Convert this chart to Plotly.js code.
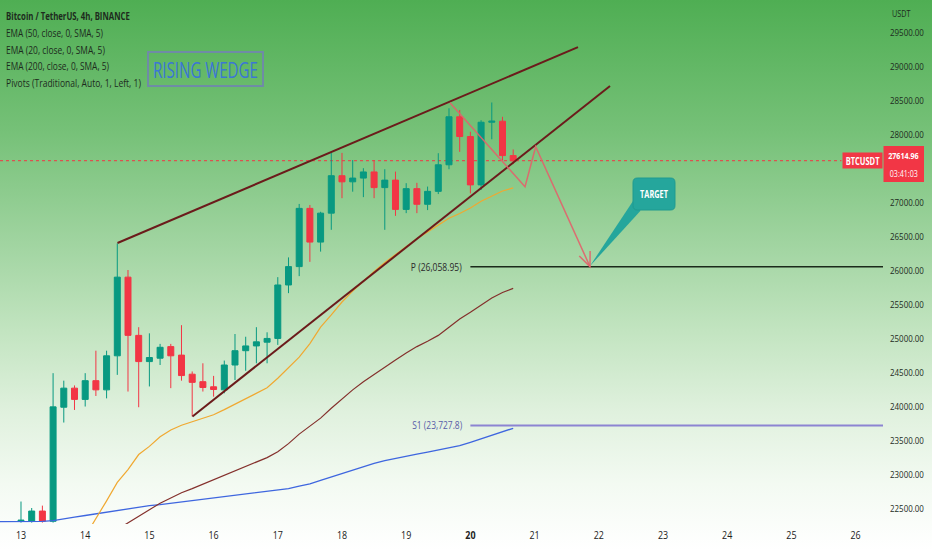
<!DOCTYPE html>
<html>
<head>
<meta charset="utf-8">
<script src="https://cdn.plot.ly/plotly-3.0.1.min.js"></script>
<style>
  html, body { margin: 0; padding: 0; }
  body { width: 932px; height: 550px; overflow: hidden;
    background: linear-gradient(to bottom, #4fae53 0%, #76c178 24%, #a0d4a0 44%, #c2e4c0 60%, #e0f1de 75%, #f3faf2 88%, #ffffff 100%); }
  #chart { width: 932px; height: 550px; }
</style>
</head>
<body>
<div id="chart"></div>
<script>
// ---------- DATA ----------
const dayTicks = [13, 14, 15, 16, 17, 18, 19, 20, 21, 22, 23, 24, 25, 26];
const dayLabels = ['13', '14', '15', '16', '17', '18', '19', '<b>20</b>', '21', '22', '23', '24', '25', '26'];
// price scale labels (27500 is hidden behind the last-price tag)
const priceTicks = [22500, 23000, 23500, 24000, 24500, 25000, 25500, 26000, 26500, 27000, 28000, 28500, 29000, 29500];
const firstCandleDay = 13;          // 2023-03-13 00:00, 4h candles
const candlesPerDay = 6;

const openP = [22320, 22320, 22470, 22320, 23995, 24275, 24110, 24385, 24250, 24750,
  25905, 25050, 24665, 24715, 24885, 24760, 24480, 24370, 24295, 24250,
  24615, 24825, 24895, 24950, 25005, 25790, 26060, 26915, 26420, 26845,
  27395, 27305, 27360, 27450, 27220, 27330, 26900, 27205, 26975, 27165,
  27555, 28260, 27970, 27260, 28180, 28195, 27690];
const highP = [22610, 22515, 22550, 24495, 24385, 24315, 24495, 24825, 24825, 26400,
  26010, 25170, 25080, 24925, 24925, 25200, 24520, 24640, 24455, 24680,
  25070, 25030, 25170, 25095, 25905, 26195, 26980, 26965, 26865, 27730,
  27730, 27625, 27505, 27625, 27490, 27455, 27285, 27290, 27235, 27725,
  28385, 28360, 28040, 28210, 28470, 28260, 27780];
const lowP = [22300, 22300, 22300, 22300, 23770, 23955, 24005, 24160, 24125, 24470,
  24225, 23995, 24300, 24615, 24275, 24385, 23860, 24225, 24150, 24200,
  24395, 24530, 24640, 24640, 24910, 25670, 25920, 26130, 26280, 26600,
  27065, 27160, 27080, 27065, 26600, 26805, 26845, 26845, 26890, 27125,
  27490, 27745, 27135, 27185, 27930, 27615, 27565];
const closeP = [22335, 22470, 22320, 24000, 24275, 24110, 24385, 24250, 24750, 25905,
  25050, 24665, 24725, 24875, 24750, 24460, 24360, 24285, 24255, 24615,
  24825, 24895, 24955, 25005, 25790, 26060, 26915, 26420, 26845, 27395,
  27305, 27360, 27450, 27220, 27330, 26900, 27205, 26975, 27165, 27555,
  28260, 27970, 27260, 28180, 28195, 27690, 27615];

// EMA 20 (orange) from candle 6
const ema20Start = 6;
const ema20 = [22100, 22350, 22620, 22890, 23080, 23300, 23420, 23560, 23660, 23730,
  23780, 23830, 23885, 23960, 24040, 24120, 24200, 24280, 24420, 24570,
  24730, 24930, 25170, 25350, 25540, 25700, 25850, 25990, 26120, 26240,
  26350, 26470, 26570, 26670, 26770, 26840, 26920, 27020, 27100, 27170, 27215];
// EMA 50 (maroon) from candle 9
const ema50Start = 9;
const ema50 = [22200, 22300, 22400, 22490, 22585, 22665, 22740, 22800, 22865, 22930,
  23000, 23070, 23135, 23195, 23255, 23340, 23460, 23600, 23720, 23835,
  23980, 24120, 24250, 24370, 24480, 24590, 24690, 24790, 24885, 24965,
  25050, 25170, 25290, 25390, 25490, 25600, 25680, 25740];
// EMA 200 (blue) from candle -2
const ema200Start = -2;
const ema200 = [22315, 22315, 22315, 22315, 22318, 22330, 22350, 22380, 22405, 22430,
  22455, 22480, 22505, 22530, 22550, 22565, 22585, 22605, 22620, 22640,
  22660, 22680, 22700, 22720, 22740, 22755, 22775, 22800, 22835, 22870,
  22920, 22970, 23025, 23075, 23125, 23170, 23210, 23245, 23275, 23305,
  23335, 23365, 23395, 23430, 23480, 23530, 23580, 23635, 23686];

const lastPrice = 27614.96;
const pivotP = 26058.95;
const pivotS1 = 23727.8;
const pivotFromDay = 20;

// Drawings (day-of-month, price)
const wedgeUpperX = [14.503, 21.676];
const wedgeUpperY = [26407, 29284];
const wedgeLowerX = [15.671, 22.175];
const wedgeLowerY = [23860, 28711];
const projX = [19.682, 20.851, 21.017, 21.863];
const projY = [28467, 27233, 27820, 26060];
const arrowArmX = [21.865, 21.696];
const arrowArmY = [26289, 26217];
const targetBoxX = [22.533, 23.187];
const targetBoxY = [26891, 27361];
const targetPointerX = [22.533, 22.65, 21.860];
const targetPointerY = [27025, 26880, 26065];

// ---------- BUILD ----------
const xRange = [12.673, 26.427];
const yRange = [22280, 29975];
const W = 932, H = 550, ML = 0, MR = 49, MT = 0, MB = 26;
const PW = W - ML - MR, PH = H - MT - MB;
const px = v => (v - ML) / PW;
const py = v => 1 - (v - MT) / PH;

const candleX = openP.map((_, i) => firstCandleDay + i / candlesPerDay);
const seqX = (start, arr) => arr.map((_, k) => firstCandleDay + (start + k) / candlesPerDay);

const FONT = '"Open Sans", "Noto Sans", Roboto, sans-serif';
const TXT = '#1d2b1d';
const GREEN = '#089981', RED = '#F23645';

const traces = [
  { type: 'scatter', mode: 'lines', x: seqX(ema200Start, ema200), y: ema200,
    line: { color: '#3e66df', width: 1.3 }, hoverinfo: 'skip' },
  { type: 'scatter', mode: 'lines', x: seqX(ema50Start, ema50), y: ema50,
    line: { color: '#84302c', width: 1.2 }, hoverinfo: 'skip' },
  { type: 'scatter', mode: 'lines', x: seqX(ema20Start, ema20), y: ema20,
    line: { color: '#f0a830', width: 1.2 }, hoverinfo: 'skip' },
  { type: 'candlestick', x: candleX, open: openP, high: highP, low: lowP, close: closeP,
    increasing: { line: { color: GREEN, width: 1 }, fillcolor: GREEN },
    decreasing: { line: { color: RED, width: 1 }, fillcolor: RED },
    whiskerwidth: 0, hoverinfo: 'skip' }
];

function roundedBoxPath(x0, x1, y0, y1, rx, ry) {
  return `M ${x0 + rx},${y1} L ${x1 - rx},${y1} Q ${x1},${y1} ${x1},${y1 - ry} ` +
    `L ${x1},${y0 + ry} Q ${x1},${y0} ${x1 - rx},${y0} L ${x0 + rx},${y0} ` +
    `Q ${x0},${y0} ${x0},${y0 + ry} L ${x0},${y1 - ry} Q ${x0},${y1} ${x0 + rx},${y1} Z`;
}
const ptr = `M ${targetPointerX[0]},${targetPointerY[0]} L ${targetPointerX[1]},${targetPointerY[1]} L ${targetPointerX[2]},${targetPointerY[2]} Z`;

const shapes = [
  { type: 'line', xref: 'x', yref: 'y', x0: xRange[0], x1: 25.78, y0: lastPrice, y1: lastPrice,
    line: { color: RED, width: 1, dash: 'dot' }, layer: 'below' },
  { type: 'line', xref: 'x', yref: 'y', x0: pivotFromDay, x1: xRange[1], y0: pivotP, y1: pivotP,
    line: { color: '#1b2a1b', width: 1.5 } },
  { type: 'line', xref: 'x', yref: 'y', x0: pivotFromDay, x1: xRange[1], y0: pivotS1, y1: pivotS1,
    line: { color: '#8c84d2', width: 2 } },
  { type: 'line', xref: 'x', yref: 'y', x0: wedgeUpperX[0], x1: wedgeUpperX[1], y0: wedgeUpperY[0], y1: wedgeUpperY[1],
    line: { color: '#6b1b1b', width: 2 } },
  { type: 'line', xref: 'x', yref: 'y', x0: wedgeLowerX[0], x1: wedgeLowerX[1], y0: wedgeLowerY[0], y1: wedgeLowerY[1],
    line: { color: '#6b1b1b', width: 2 } },
  { type: 'path', xref: 'x', yref: 'y', path: ptr, fillcolor: '#25a69c', line: { width: 0 } },
  { type: 'path', xref: 'x', yref: 'y',
    path: roundedBoxPath(targetBoxX[0], targetBoxX[1], targetBoxY[0], targetBoxY[1], 0.07, 65),
    fillcolor: '#25a69c', line: { color: '#1f9a90', width: 1 } },
  { type: 'path', xref: 'x', yref: 'y',
    path: projX.map((v, k) => (k ? 'L ' : 'M ') + v + ',' + projY[k]).join(' '),
    line: { color: 'rgba(226,98,108,0.9)', width: 1.5 } },
  { type: 'path', xref: 'x', yref: 'y',
    path: `M ${arrowArmX[0]},${arrowArmY[0]} L ${projX[3]},${projY[3]} L ${arrowArmX[1]},${arrowArmY[1]}`,
    line: { color: 'rgba(226,98,108,0.9)', width: 1.5 } },
  { type: 'rect', xref: 'paper', yref: 'paper', x0: px(148), x1: px(263), y0: py(86), y1: py(52),
    line: { color: '#6f8ba6', width: 2 } },
  { type: 'rect', xref: 'paper', yref: 'paper', x0: px(842.5), x1: px(882.5), y0: py(168.5), y1: py(152.5),
    fillcolor: RED, line: { width: 0 } },
  { type: 'rect', xref: 'paper', yref: 'paper', x0: px(883.5), x1: px(924), y0: py(182), y1: py(146),
    fillcolor: RED, line: { width: 0 } }
];

// text, x, y, target rendered width (px), options
const annSpec = [
  ['<b>Bitcoin / TetherUS, 4h, BINANCE</b>', 5, 16, 124],
  ['EMA (50, close, 0, SMA, 5)', 5, 33, 97],
  ['EMA (20, close, 0, SMA, 5)', 5, 50, 99],
  ['EMA (200, close, 0, SMA, 5)', 5, 66.5, 103],
  ['Pivots (Traditional, Auto, 1, Left, 1)', 5, 83, 135],
  ['RISING WEDGE', 205.5, 69, 105, { xanchor: 'center', size: 22, color: '#3b76d6' }],
  ['P (26,058.95)', 463, 267, 51, { xanchor: 'right', color: '#2b2b2b' }],
  ['S1 (23,727.8)', 463, 425, 50, { xanchor: 'right', color: '#5a5ea8' }],
  ['<b>TARGET</b>', 654, 194, 28, { xanchor: 'center', size: 10, color: '#ffffff' }],
  ['<b>BTCUSDT</b>', 862.5, 160.5, 34, { xanchor: 'center', size: 10, color: '#ffffff' }],
  ['<b>27614.96</b>', 903.7, 155, 31, { xanchor: 'center', size: 9.5, color: '#ffffff' }],
  ['03:41:03', 903.7, 173, 28, { xanchor: 'center', size: 9.5, color: '#ffffff' }],
  ['USDT', 891, 13, 19, { size: 9.5 }]
];
const annotations = annSpec.map(([text, x, y, w, o]) => {
  o = o || {};
  return { text, xref: 'paper', yref: 'paper', x: px(x), y: py(y),
    xanchor: o.xanchor || 'left', yanchor: 'middle', showarrow: false, borderpad: 0,
    font: { family: FONT, size: o.size || 10.5, color: o.color || TXT } };
});

const layout = {
  width: W, height: H,
  margin: { l: ML, r: MR, t: MT, b: MB },
  paper_bgcolor: 'rgba(0,0,0,0)', plot_bgcolor: 'rgba(0,0,0,0)',
  showlegend: false, hovermode: false, dragmode: false, boxgap: 0.2,
  font: { family: FONT, size: 10.5, color: TXT },
  xaxis: { range: xRange, tickvals: dayTicks, ticktext: dayLabels, showgrid: false, zeroline: false,
    showline: false, ticks: '', rangeslider: { visible: false }, fixedrange: true,
    tickfont: { family: FONT, size: 10.5, color: '#222' }, ticklabelstandoff: 4 },
  yaxis: { range: yRange, side: 'right', tickmode: 'array', tickvals: priceTicks, tickformat: '.2f',
    showgrid: false, zeroline: false, showline: false, ticks: '', fixedrange: true,
    tickfont: { family: FONT, size: 9.5, color: TXT }, ticklabelstandoff: 6 },
  shapes, annotations
};

// squeeze text horizontally to match the condensed look of the reference
function squeeze(el, targetW, anchor) {
  const bb = el.getBBox();
  if (!bb.width) return;
  const sx = targetW / bb.width;
  const ax = anchor === 'right' ? bb.x + bb.width : anchor === 'center' ? bb.x + bb.width / 2 : bb.x;
  const prev = el.getAttribute('transform') || '';
  el.setAttribute('transform', `${prev} translate(${ax},0) scale(${sx},1) translate(${-ax},0)`.trim());
}

Plotly.newPlot('chart', traces, layout, { staticPlot: true, displayModeBar: false }).then(gd => {
  annSpec.forEach((s, i) => {
    const t = gd.querySelector(`.annotation[data-index="${i}"] text`);
    if (t) squeeze(t, s[3], (s[4] && s[4].xanchor) || 'left');
  });
  gd.querySelectorAll('.ytick text').forEach(t => squeeze(t, 34, 'left'));
  gd.querySelectorAll('.xtick text').forEach(t => {
    const bb = t.getBBox();
    squeeze(t, bb.width * 0.85, 'center');
  });
});
</script>
</body>
</html>
